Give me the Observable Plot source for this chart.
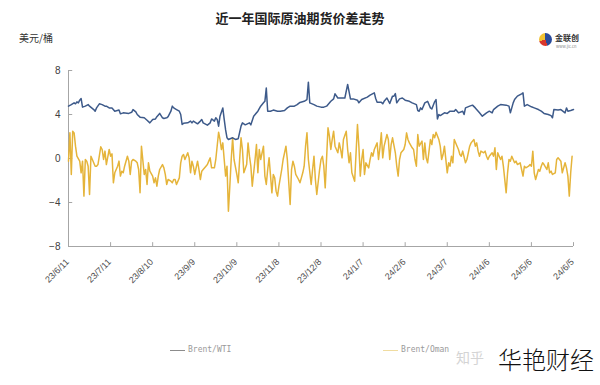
<!DOCTYPE html>
<html><head><meta charset="utf-8">
<script src="https://cdn.jsdelivr.net/npm/d3@7"></script>
<script src="https://cdn.jsdelivr.net/npm/@observablehq/plot@0.6"></script>
<style>
body{margin:0;background:#fff;}
#wrap{position:relative;width:600px;height:385px;overflow:hidden;font-family:"Noto Sans CJK SC","Noto Sans",sans-serif;}
#wrap svg{position:absolute;left:0;top:0;}
.t{position:absolute;white-space:nowrap;line-height:1;}
</style></head><body><div id="wrap"></div>
<script>
// ---- data ----
const startDate = [2023, 5, 11];          // 23/6/11
const tickStepDays = 30;
const tickCount = 13;
const yTicks = [-8, -4, 0, 4, 8];
const yDomain = [-8, 8];

const wtiDays = [0,2,4,5,6,7,8,9,10,12,14,15,18,19,20,22,24,26,27,29,31,33,36,37,39,43,45,46,48,49,51,54,56,58,60,62,63,65,67,68,70,71,73,74,75,77,79,80,81,82,85,87,88,89,92,94,95,96,99,101,102,104,105,106,107,108,110,111,112,113,114,117,119,121,123,124,126,129,130,132,135,137,139,140,141,142,144,146,149,151,154,156,158,161,163,165,168,170,171,172,175,177,180,182,184,187,189,190,192,194,197,199,201,203,206,207,209,213,215,218,219,220,223,224,225,227,229,231,232,233,234,236,238,240,243,245,248,249,250,251,252,254,256,258,259,261,262,263,264,265,268,270,272,275,276,278,281,282,283,286,288,290,293,295,298,300,302,303,306,308,312,314,315,317,318,320,323,324,325,327,330,332,335,337,339,342,344,345,346,349,351,354,355,356,358,360];
const wtiValues = [4.76,4.9,5.06,4.97,5.15,5.06,5.3,5.45,4.67,4.76,4.9,4.76,4.45,4.3,4.6,4.97,4.9,4.76,4.76,4.6,4.6,4.3,4.4,4.06,4.15,4.1,4.2,4.45,4.24,4.0,3.76,3.7,3.48,3.24,3.55,3.6,3.8,4.1,3.7,3.64,3.7,3.8,4.3,4.76,4.6,4.45,4.3,4.0,3.1,3.2,3.24,3.4,3.24,3.4,3.15,3.4,3.55,3.24,3.03,3.24,3.6,3.4,3.7,3.55,2.94,3.85,4.6,3.55,2.6,1.88,1.73,1.88,1.73,1.8,2.94,3.24,3.06,3.24,3.06,3.85,4.3,4.76,5.06,5.2,6.4,4.3,4.3,4.4,4.3,4.3,4.36,4.6,4.76,4.76,4.9,5.1,5.2,5.36,6.94,5.06,4.9,4.76,4.67,4.67,4.76,5.2,5.42,5.88,5.5,5.5,5.5,6.73,5.42,5.42,5.3,5.06,5.36,5.58,5.76,5.97,5.45,5.12,5.12,4.97,5.2,5.5,5.0,5.67,5.67,5.9,5.06,5.42,5.5,5.3,5.2,5.06,4.9,4.36,4.3,4.6,4.45,5.06,5.2,4.6,4.5,5.15,5.36,3.6,4.0,3.9,4.15,4.1,4.3,4.3,4.45,4.15,4.3,4.0,4.6,4.76,4.85,4.6,4.15,3.85,4.15,4.3,4.15,4.45,4.76,4.9,4.85,4.76,4.15,5.06,5.36,5.67,5.88,5.97,4.76,4.9,4.7,4.6,4.45,4.3,4.1,4.0,3.9,3.7,4.45,4.4,4.45,4.15,4.6,4.3,4.36,4.45];

const omanDays = [0,1,2,3,4,5,6,8,9,10,11,12,13,14,15,16,17,19,20,21,23,24,25,26,27,29,30,31,32,33,35,36,37,38,39,40,42,43,44,45,46,48,49,50,51,52,54,55,56,57,58,60,61,62,63,64,65,67,68,69,70,71,73,74,75,76,77,79,80,81,82,83,85,86,87,88,89,90,92,93,94,95,96,98,99,100,101,102,103,104,105,107,108,109,110,111,112,113,114,115,116,117,118,120,121,122,123,124,125,127,128,129,130,131,133,134,135,136,137,139,140,141,142,143,145,146,147,148,149,150,152,153,154,155,156,158,159,160,161,162,164,165,166,167,168,169,170,171,173,174,175,176,177,179,180,181,182,183,185,186,187,188,189,190,192,193,194,195,196,198,199,200,201,202,204,205,206,207,208,209,210,211,212,214,215,216,217,218,220,221,222,223,224,225,227,228,229,230,231,233,234,235,236,237,239,240,241,242,243,245,246,247,248,249,250,252,253,254,255,256,258,259,260,261,262,264,265,266,267,268,270,271,272,273,274,275,277,278,279,280,281,283,284,285,286,287,289,290,291,292,293,294,296,297,298,299,300,302,303,304,305,306,307,308,309,310,312,313,314,315,316,317,318,319,320,322,323,324,325,326,328,329,330,331,332,333,335,336,337,338,339,341,342,343,344,345,347,348,349,350,351,352,354,355,356,357,358,359];
const omanValues = [-0.24,2.33,-1.45,2.48,2.33,1.12,0.21,-0.24,-1.3,-0.24,-3.42,-0.09,-0.24,-0.7,-3.27,0.21,-0.09,-0.7,-0.7,-0.55,1.06,0.82,-0.09,0.67,-0.55,0.82,0.21,0.42,-2.21,-1.3,-0.7,-0.24,-1.6,-1.15,-1.3,-0.7,0.21,-0.24,-1.45,-0.24,-0.09,-0.24,-0.39,-1.0,-3.12,1.12,-1.45,-1.0,-2.36,-0.39,-1.15,-1.6,-2.21,-1.76,-2.52,-1.6,-1.0,-0.55,-0.85,-1.45,-2.36,-1.91,-2.06,-2.21,-1.91,-1.91,-2.36,-1.76,-0.39,0.21,0.36,-0.09,0.52,0.06,-1.3,-0.24,-0.7,-1.45,-0.24,-1.0,-1.91,-1.15,-1.0,-0.7,-0.55,-0.24,0.06,-0.85,-0.85,-0.85,-0.09,2.39,1.73,0.82,1.42,-0.09,-1.6,-0.7,-4.79,-2.52,-0.09,1.88,-0.09,-1.45,-2.21,-0.09,1.88,0.82,-1.3,-0.55,1.42,0.21,-0.7,-2.52,-0.09,1.27,-1.3,0.82,-0.09,1.12,-1.6,-2.36,-1.0,0.06,-3.12,-1.45,-1.76,-2.97,-3.42,-2.52,-1.0,-0.09,0.52,1.12,-0.09,-4.18,-1.0,-0.24,-0.7,-1.45,-1.91,-2.21,-1.76,-1.3,-0.7,1.12,2.33,-0.09,-2.36,-1.0,0.21,-1.91,-3.27,-1.0,-0.09,0.21,-0.7,-2.67,2.79,2.03,0.82,1.73,2.48,1.12,0.52,1.42,0.82,0.06,1.73,2.48,0.82,-0.39,0.52,-1.3,-2.06,0.52,3.09,1.12,-1.6,-0.09,0.82,-1.45,-0.39,-0.85,-0.09,0.52,0.21,0.82,1.42,-0.09,0.97,2.33,0.06,1.12,2.18,1.73,-0.09,1.27,1.88,0.52,-0.7,-1.6,-0.09,0.52,0.82,1.27,2.33,1.73,1.42,0.97,0.82,-0.09,-0.7,2.18,1.12,1.58,-0.09,1.42,0.06,-0.39,1.73,1.27,2.18,1.88,2.39,1.73,1.12,-0.09,0.36,1.12,-1.3,-0.39,-0.7,0.21,-0.39,1.73,1.12,0.82,0.36,0.21,0.67,-0.39,-0.09,0.52,1.12,1.42,1.73,1.12,1.42,0.67,0.21,0.67,0.52,0.67,0.21,-0.09,0.21,0.52,0.21,0.97,-1.0,0.52,0.21,-0.09,0.21,-0.7,-3.12,-1.3,-0.09,-0.24,0.21,-0.09,-0.39,-0.24,-0.55,-0.39,-1.0,-1.6,-0.7,-0.85,-0.7,-0.55,-0.7,0.67,-1.3,-1.91,-1.0,-1.15,-0.7,-0.39,-0.55,-1.0,-0.39,-1.3,-1.15,-1.45,-1.3,-0.09,0.06,-0.09,-0.24,-1.3,-0.39,-0.85,-1.6,-3.42,-1.3,0.21];

const seriesNames = ["Brent/WTI", "Brent/Oman"];
const seriesColors = ["#3d5a8a", "#e5b43a"];

// ---- build ----
const start = new Date(Date.UTC(...startDate));
const day = n => d3.utcDay.offset(start, n);
const wti = wtiDays.map((d, i) => ({date: day(d), value: wtiValues[i]}));
const oman = omanDays.map((d, i) => ({date: day(d), value: omanValues[i]}));
const xTicks = d3.range(tickCount).map(i => day(i * tickStepDays));
const xDomain = [xTicks[0], xTicks[xTicks.length - 1]];
const fmt = d => `${String(d.getUTCFullYear()).slice(2)}/${d.getUTCMonth() + 1}/${d.getUTCDate()}`;
const axisColor = "#a6a6a6";

const chart = Plot.plot({
  width: 600, height: 385,
  marginTop: 70, marginBottom: 139, marginLeft: 68, marginRight: 27,
  style: {fontFamily: "'Liberation Sans', Arial, sans-serif", fontSize: "10px", color: "#404040", background: "transparent"},
  x: {type: "utc", domain: xDomain},
  y: {domain: yDomain},
  marks: [
    Plot.ruleY([yDomain[0]], {stroke: axisColor, strokeWidth: 1}),
    Plot.ruleX([xDomain[0]], {stroke: axisColor, strokeWidth: 1}),
    Plot.ruleX(xTicks, {y1: yDomain[0], y2: yDomain[0] + 0.35, stroke: axisColor}),
    Plot.ruleY(yTicks, {x1: xDomain[0], x2: day(3), stroke: axisColor}),
    Plot.axisX(xTicks, {tickSize: 0, tickPadding: 14, tickRotate: -45, tickFormat: fmt, label: null, fill: "#505050", fontSize: 9, dx: -1}),
    Plot.axisY(yTicks, {tickSize: 0, tickPadding: 8, label: null, fill: "#404040"}),
    Plot.line(oman, {x: "date", y: "value", stroke: seriesColors[1], strokeWidth: 1.5}),
    Plot.line(wti, {x: "date", y: "value", stroke: seriesColors[0], strokeWidth: 1.5})
  ]
});

const wrap = document.getElementById("wrap");
wrap.appendChild(chart);
function addText(txt, css) {
  const el = document.createElement("div");
  el.className = "t"; el.textContent = txt;
  Object.assign(el.style, css);
  wrap.appendChild(el); return el;
}
addText("近一年国际原油期货价差走势", {left: "0", width: "600px", textAlign: "center", top: "11px", fontSize: "13px", fontWeight: "bold", color: "#222"});
addText("美元/桶", {left: "19px", top: "33px", fontSize: "10px", color: "#333"});
// logo
const logo = document.createElement("div");
Object.assign(logo.style, {position: "absolute", left: "539px", top: "33px", width: "13px", height: "13px", borderRadius: "50%",
  background: "conic-gradient(#2a4b9b 0 45%, #d8372c 45% 70%, #f1c232 70% 100%)"});
wrap.appendChild(logo);
addText("金联创", {left: "555px", top: "34px", fontSize: "8px", fontWeight: "bold", color: "#333"});
addText("www.jlc.cn", {left: "556px", top: "44px", fontSize: "4px", color: "#888"});
// legend
seriesNames.forEach((name, i) => {
  const lx = [170, 383][i];
  const sw = document.createElement("div");
  Object.assign(sw.style, {position: "absolute", left: lx + "px", top: "350px", width: "15px", height: "0", borderTop: "1.5px solid " + (i ? "#f0dca0" : "#8c8c8c")});
  wrap.appendChild(sw);
  addText(name, {left: (lx + 18) + "px", top: "346px", fontSize: "8px", color: "#9a9a9a", fontFamily: "'DejaVu Sans Mono', monospace"});
});
// watermark
addText("知乎", {left: "456px", top: "350px", fontSize: "14px", color: "#d4d4d4"});
addText("华艳财经", {left: "498px", top: "347px", fontSize: "24px", color: "#111", fontWeight: "300"});
</script></body></html>
